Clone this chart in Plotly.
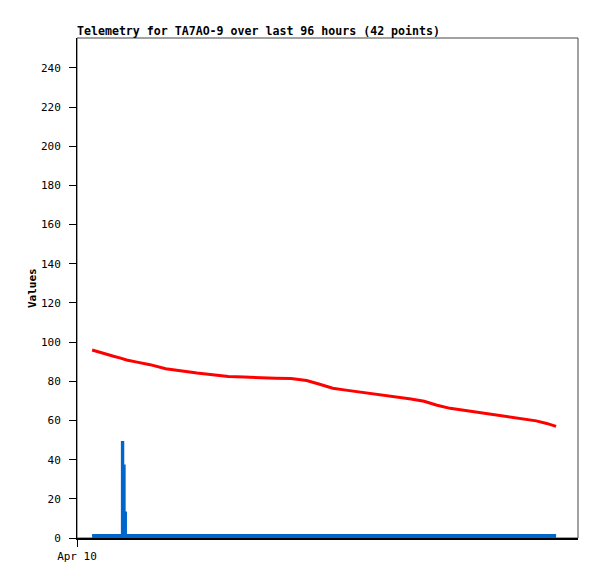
import plotly.graph_objects as go

times = [
    "2024-04-10 02:54", "2024-04-10 05:00", "2024-04-10 07:00", "2024-04-10 08:12",
    "2024-04-10 08:36", "2024-04-10 08:44", "2024-04-10 08:52", "2024-04-10 09:08",
    "2024-04-10 09:23", "2024-04-10 09:30", "2024-04-10 11:30", "2024-04-10 14:00",
    "2024-04-10 17:00", "2024-04-10 20:00", "2024-04-10 23:00", "2024-04-11 02:00",
    "2024-04-11 05:00", "2024-04-11 08:00", "2024-04-11 11:00", "2024-04-11 14:00",
    "2024-04-11 17:00", "2024-04-11 20:00", "2024-04-11 22:30", "2024-04-12 01:00",
    "2024-04-12 03:30", "2024-04-12 06:00", "2024-04-12 08:30", "2024-04-12 11:00",
    "2024-04-12 13:30", "2024-04-12 16:00", "2024-04-12 18:30", "2024-04-12 21:00",
    "2024-04-12 23:30", "2024-04-13 02:00", "2024-04-13 04:30", "2024-04-13 07:00",
    "2024-04-13 09:30", "2024-04-13 12:00", "2024-04-13 14:00", "2024-04-13 16:00",
    "2024-04-13 18:00", "2024-04-13 19:48",
]

red_values = [
    96, 94.2, 92.8, 92.0, 91.6, 91.4, 91.3, 91.1, 91.0, 90.9, 89.8, 88.5,
    86.4, 85.2, 84.2, 83.3, 82.5, 82.2, 81.8, 81.6, 81.4, 80.4, 78.5, 76.5,
    75.5, 74.6, 73.8, 73.0, 72.0, 71.0, 69.8, 67.8, 66.2, 65.2, 64.2, 63.2,
    62.3, 61.3, 60.5, 59.8, 58.5, 57,
]

blue_values = [
    1.5, 1.5, 1.5, 1.5, 49, 49, 37, 13, 1.5, 1.5, 1.5, 1.5,
    1.5, 1.5, 1.5, 1.5, 1.5, 1.5, 1.5, 1.5, 1.5, 1.5, 1.5, 1.5,
    1.5, 1.5, 1.5, 1.5, 1.5, 1.5, 1.5, 1.5, 1.5, 1.5, 1.5, 1.5,
    1.5, 1.5, 1.5, 1.5, 1.5, 1.5,
]

y_ticks = [0, 20, 40, 60, 80, 100, 120, 140, 160, 180, 200, 220, 240]
x_tick_vals = ["2024-04-10 00:00"]
x_tick_text = ["Apr 10"]
x_range = ["2024-04-10 00:00", "2024-04-14 00:00"]
y_range = [0, 255.3]

FONT = "DejaVu Sans Mono"
W, H = 589, 571  # page body has an 8px margin

fig = go.Figure()
fig.add_trace(go.Scatter(x=times, y=blue_values, mode="lines", line_shape="hv",
                         fill="tozeroy", fillcolor="#0066CC",
                         line=dict(color="#0066CC", width=2), name="blue"))
fig.add_trace(go.Scatter(x=times, y=red_values, mode="lines",
                         line=dict(color="#FF0000", width=3), name="red"))

fig.update_layout(
    width=W, height=H,
    margin=dict(l=69, r=19, t=30, b=41),
    paper_bgcolor="white", plot_bgcolor="white",
    showlegend=False,
    font=dict(family=FONT, size=11, color="black"),
    title=dict(text="<b>Telemetry for TA7AO-9 over last 96 hours (42 points)</b>",
               x=0, xanchor="left", xref="paper",
               y=1 - 23 / H, yanchor="middle", yref="container",
               font=dict(family=FONT, size=11.6, color="black")),
    xaxis=dict(range=x_range, tickvals=x_tick_vals, ticktext=x_tick_text,
               showgrid=False, zeroline=False, showline=True, linecolor="black",
               linewidth=2, ticks="outside", ticklen=7, tickcolor="black",
               tickwidth=1, ticklabelstandoff=0, tickfont=dict(family=FONT, size=11)),
    yaxis=dict(range=y_range, tickvals=y_ticks, showgrid=False, zeroline=False,
               showline=True, linecolor="black", linewidth=1, ticks="outside",
               ticklen=7, tickcolor="black", tickwidth=1, ticklabelstandoff=6,
               tickfont=dict(family=FONT, size=11)),
)

fig.add_shape(type="rect", xref="paper", yref="paper", x0=0, x1=1, y0=0, y1=1,
              line=dict(color="#444444", width=1), layer="below")

fig.add_annotation(text="<b>Values</b>", xref="paper", yref="paper",
                   x=(32 - 77) / 501, y=0.5, xanchor="center", yanchor="middle",
                   textangle=-90, showarrow=False,
                   font=dict(family=FONT, size=11, color="black"))

fig.write_html("out.html")
